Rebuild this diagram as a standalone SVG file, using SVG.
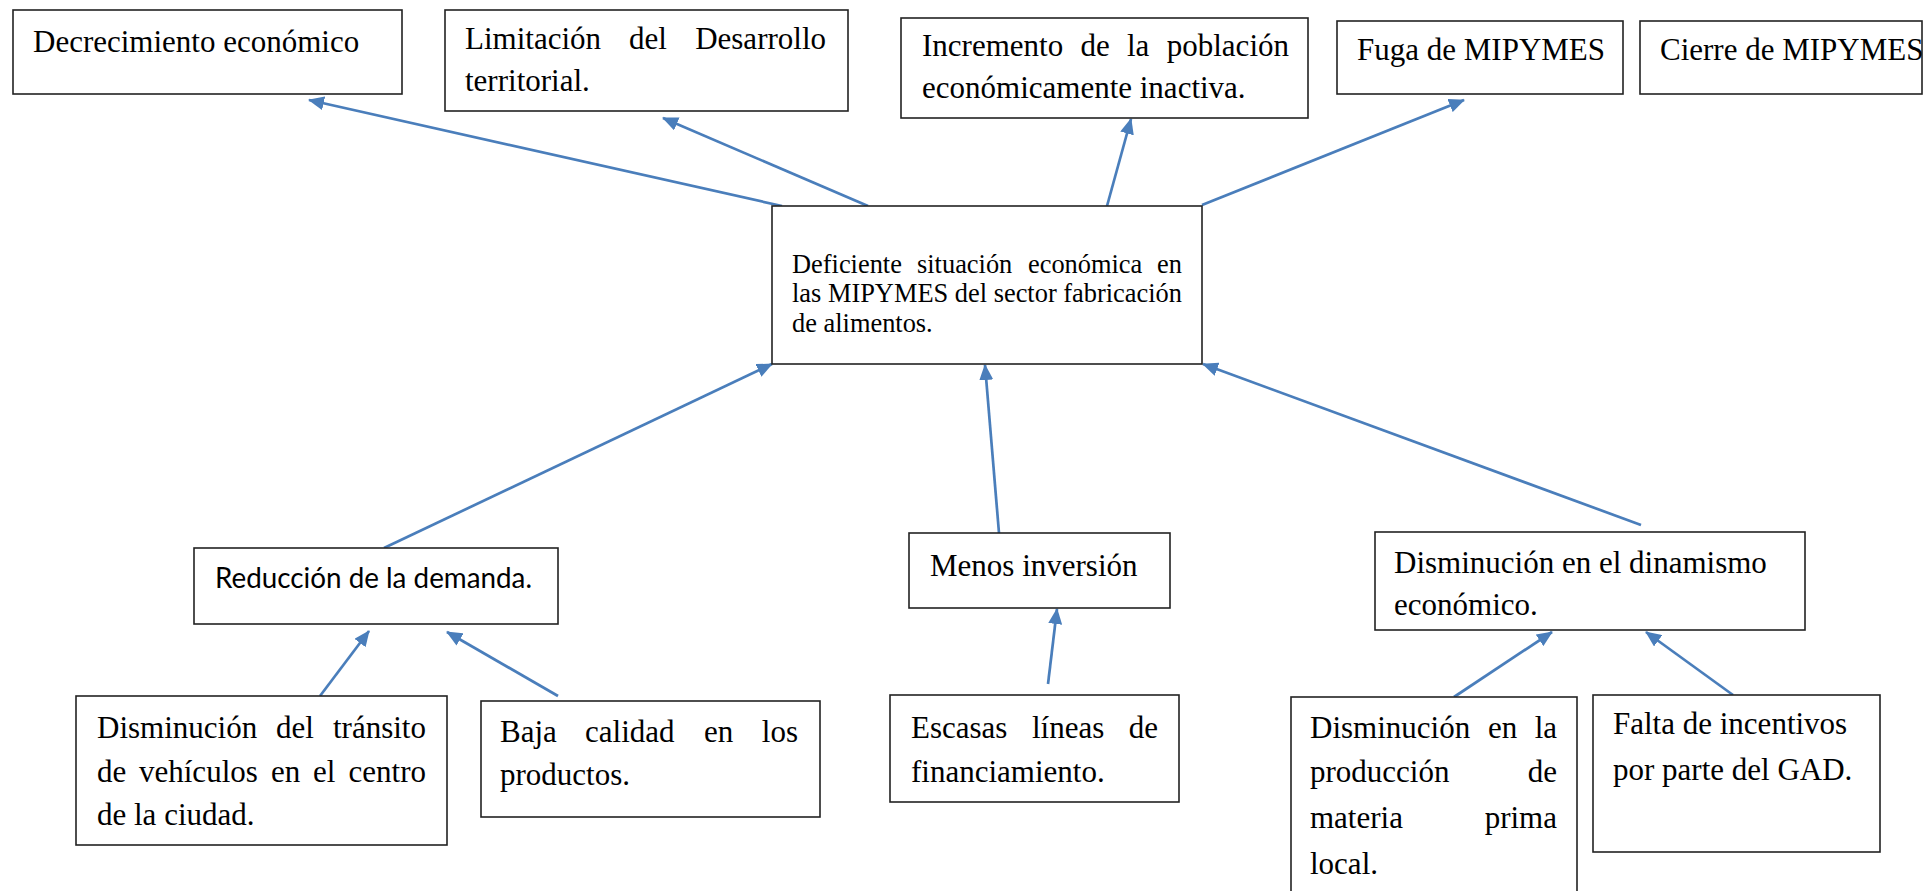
<svg xmlns="http://www.w3.org/2000/svg" width="1928" height="891" viewBox="0 0 1928 891">
<defs>
<marker id="ah" markerUnits="userSpaceOnUse" markerWidth="16" markerHeight="14" refX="15" refY="7" orient="auto">
<path d="M0,0 L16,7 L0,14 z" fill="#4a7ebb"/>
</marker>
<style>
.box{fill:#fff;stroke:#222;stroke-width:1.6}
.t{font-family:"Liberation Serif","Times New Roman",serif;font-size:31px;fill:#000}
.tc{font-family:"Liberation Serif","Times New Roman",serif;font-size:26.4px;fill:#000}
.ts{font-family:Lato,"Open Sans",sans-serif;font-size:28px;fill:#000}
.c{fill:none;stroke:#4a7ebb;stroke-width:2.7;marker-end:url(#ah)}
</style>
</defs>
<rect width="1928" height="891" fill="#fff"/>
<g id="connectors">
<line class="c" x1="782" y1="206" x2="309" y2="100"/>
<line class="c" x1="868" y1="206" x2="663" y2="118"/>
<line class="c" x1="1107" y1="206" x2="1131" y2="119"/>
<line class="c" x1="1202" y1="205" x2="1464" y2="100"/>
<line class="c" x1="384" y1="548" x2="772" y2="364"/>
<line class="c" x1="999" y1="533" x2="985" y2="365"/>
<line class="c" x1="1641" y1="525" x2="1203" y2="364"/>
<line class="c" x1="320" y1="696" x2="369" y2="631"/>
<line class="c" x1="558" y1="696" x2="447" y2="632"/>
<line class="c" x1="1048" y1="684" x2="1057" y2="609"/>
<line class="c" x1="1454" y1="697" x2="1552" y2="632"/>
<line class="c" x1="1733" y1="695" x2="1646" y2="632"/>
</g>
<g id="n-decrecimiento">
<rect class="box" x="13" y="10" width="389" height="84"/>
<text class="t" x="33" y="52">Decrecimiento económico</text>
</g>
<g id="n-limitacion">
<rect class="box" x="445" y="10" width="403" height="101"/>
<text class="t" y="49"><tspan x="465">Limitación</tspan><tspan x="629">del</tspan><tspan x="826" text-anchor="end">Desarrollo</tspan></text>
<text class="t" x="465" y="91">territorial.</text>
</g>
<g id="n-incremento">
<rect class="box" x="901" y="18" width="407" height="100"/>
<text class="t" y="56"><tspan x="922">Incremento</tspan><tspan x="1080.5">de</tspan><tspan x="1127">la</tspan><tspan x="1289" text-anchor="end">población</tspan></text>
<text class="t" x="922" y="98">económicamente inactiva.</text>
</g>
<g id="n-fuga">
<rect class="box" x="1337" y="21" width="286" height="73"/>
<text class="t" x="1357" y="60">Fuga de MIPYMES</text>
</g>
<g id="n-cierre">
<rect class="box" x="1640" y="21" width="282" height="73"/>
<text class="t" x="1660" y="60">Cierre de MIPYMES</text>
</g>
<g id="n-central">
<rect class="box" x="772" y="206" width="430" height="158"/>
<text class="tc" y="273"><tspan x="792">Deficiente</tspan><tspan x="917">situación</tspan><tspan x="1028">económica</tspan><tspan x="1182" text-anchor="end">en</tspan></text>
<text class="tc" x="792" y="302" textLength="390" lengthAdjust="spacing">las MIPYMES del sector fabricación</text>
<text class="tc" x="792" y="332">de alimentos.</text>
</g>
<g id="n-reduccion">
<rect class="box" x="194" y="548" width="364" height="76"/>
<text class="ts" x="215" y="588" textLength="317" lengthAdjust="spacingAndGlyphs">Reducción de la demanda.</text>
</g>
<g id="n-inversion">
<rect class="box" x="909" y="533" width="261" height="75"/>
<text class="t" x="930" y="576">Menos inversión</text>
</g>
<g id="n-dinamismo">
<rect class="box" x="1375" y="532" width="430" height="98"/>
<text class="t" x="1394" y="573">Disminución en el dinamismo</text>
<text class="t" x="1394" y="615">económico.</text>
</g>
<g id="n-transito">
<rect class="box" x="76" y="696" width="371" height="149"/>
<text class="t" y="738"><tspan x="97">Disminución</tspan><tspan x="276">del</tspan><tspan x="426" text-anchor="end">tránsito</tspan></text>
<text class="t" y="782"><tspan x="97">de</tspan><tspan x="139">vehículos</tspan><tspan x="271">en</tspan><tspan x="313">el</tspan><tspan x="426" text-anchor="end">centro</tspan></text>
<text class="t" x="97" y="825">de la ciudad.</text>
</g>
<g id="n-calidad">
<rect class="box" x="481" y="701" width="339" height="116"/>
<text class="t" y="742"><tspan x="500">Baja</tspan><tspan x="585">calidad</tspan><tspan x="704">en</tspan><tspan x="798" text-anchor="end">los</tspan></text>
<text class="t" x="500" y="785">productos.</text>
</g>
<g id="n-financiamiento">
<rect class="box" x="890" y="695" width="289" height="107"/>
<text class="t" y="738"><tspan x="911">Escasas</tspan><tspan x="1032">líneas</tspan><tspan x="1158" text-anchor="end">de</tspan></text>
<text class="t" x="911" y="782">financiamiento.</text>
</g>
<g id="n-materia">
<rect class="box" x="1291" y="697" width="286" height="210"/>
<text class="t" y="738"><tspan x="1310">Disminución</tspan><tspan x="1488">en</tspan><tspan x="1557" text-anchor="end">la</tspan></text>
<text class="t" y="782"><tspan x="1310">producción</tspan><tspan x="1557" text-anchor="end">de</tspan></text>
<text class="t" y="828"><tspan x="1310">materia</tspan><tspan x="1557" text-anchor="end">prima</tspan></text>
<text class="t" x="1310" y="874">local.</text>
</g>
<g id="n-incentivos">
<rect class="box" x="1593" y="695" width="287" height="157"/>
<text class="t" x="1613" y="734">Falta de incentivos</text>
<text class="t" x="1613" y="780">por parte del GAD.</text>
</g>
</svg>
